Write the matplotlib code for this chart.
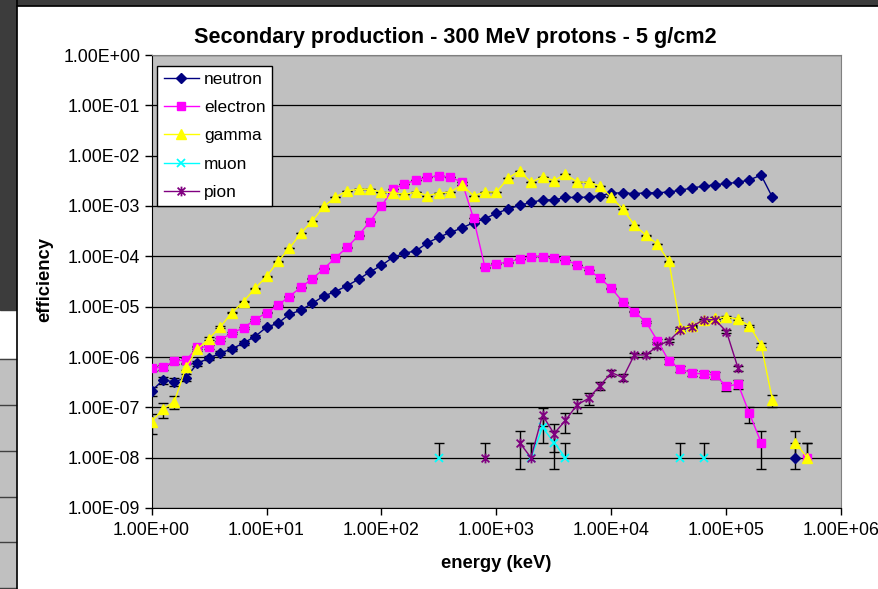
import numpy as np
import matplotlib
matplotlib.use("Agg")
import matplotlib.pyplot as plt
from matplotlib.patches import Rectangle
from matplotlib.lines import Line2D
from matplotlib.path import Path
from matplotlib.ticker import FuncFormatter, LogLocator, NullLocator

plt.rcParams['font.family'] = ['Liberation Sans', 'DejaVu Sans']

nan = np.nan

# energy bins (keV), 10 per decade
energy = [1.00, 1.26, 1.58, 2.00, 2.51, 3.16, 3.98, 5.01, 6.31, 7.94,
          10.0, 12.6, 15.8, 20.0, 25.1, 31.6, 39.8, 50.1, 63.1, 79.4,
          100, 126, 158, 200, 251, 316, 398, 501, 631, 794,
          1000, 1259, 1585, 1995, 2512, 3162, 3981, 5012, 6310, 7943,
          1.0e4, 1.26e4, 1.58e4, 2.0e4, 2.51e4, 3.16e4, 3.98e4, 5.01e4, 6.31e4, 7.94e4,
          1.0e5, 1.26e5, 1.58e5, 2.0e5, 2.51e5, 3.16e5, 3.98e5, 5.01e5]

neutron = [2.1e-7, 3.5e-7, 3.2e-7, 3.9e-7, 7.5e-7, 9.5e-7, 1.2e-6, 1.45e-6, 1.9e-6, 2.55e-6,
           3.9e-6, 4.7e-6, 7.0e-6, 8.6e-6, 1.17e-5, 1.63e-5, 2.0e-5, 2.6e-5, 3.5e-5, 4.9e-5,
           6.6e-5, 9.6e-5, 1.15e-4, 1.29e-4, 1.85e-4, 2.4e-4, 3.0e-4, 3.65e-4, 4.7e-4, 5.6e-4,
           7.2e-4, 8.7e-4, 1.03e-3, 1.18e-3, 1.32e-3, 1.32e-3, 1.48e-3, 1.48e-3, 1.5e-3, 1.6e-3,
           1.8e-3, 1.83e-3, 1.76e-3, 1.83e-3, 1.83e-3, 1.9e-3, 2.05e-3, 2.3e-3, 2.46e-3, 2.65e-3,
           2.8e-3, 2.95e-3, 3.3e-3, 4.1e-3, 1.48e-3, nan, 1.0e-8, nan]

electron = [6.0e-7, 6.3e-7, 8.3e-7, 8.7e-7, 1.55e-6, 1.6e-6, 2.2e-6, 3.0e-6, 3.8e-6, 5.5e-6,
            7.6e-6, 1.07e-5, 1.59e-5, 2.45e-5, 3.6e-5, 5.7e-5, 9.4e-5, 1.5e-4, 2.6e-4, 4.9e-4,
            1.0e-3, 2.2e-3, 2.7e-3, 3.3e-3, 3.7e-3, 4.0e-3, 3.7e-3, 3.0e-3, 5.7e-4, 6.0e-5,
            7.2e-5, 7.6e-5, 8.9e-5, 9.9e-5, 9.9e-5, 9.4e-5, 8.5e-5, 6.8e-5, 5.4e-5, 3.7e-5,
            2.3e-5, 1.23e-5, 8.0e-6, 4.9e-6, 2.1e-6, 8.3e-7, 5.8e-7, 4.8e-7, 4.6e-7, 4.4e-7,
            2.6e-7, 2.9e-7, 7.6e-8, 2.0e-8, nan, nan, nan, 1.0e-8]

gamma = [5.2e-8, 9.2e-8, 1.3e-7, 6.4e-7, 1.43e-6, 2.3e-6, 4.0e-6, 7.6e-6, 1.26e-5, 2.3e-5,
         4.0e-5, 7.9e-5, 1.45e-4, 2.9e-4, 5.1e-4, 9.8e-4, 1.5e-3, 2.0e-3, 2.15e-3, 2.15e-3,
         1.9e-3, 1.85e-3, 1.7e-3, 1.9e-3, 1.6e-3, 1.8e-3, 1.9e-3, 2.6e-3, 1.6e-3, 1.9e-3,
         1.9e-3, 3.55e-3, 5.0e-3, 2.95e-3, 3.8e-3, 3.2e-3, 4.3e-3, 3.0e-3, 2.95e-3, 2.5e-3,
         1.48e-3, 8.6e-4, 4.2e-4, 2.6e-4, 1.74e-4, 7.9e-5, 3.8e-6, 4.2e-6, 5.4e-6, 5.9e-6,
         6.3e-6, 5.6e-6, 4.2e-6, 1.74e-6, 1.4e-7, nan, 2.0e-8, 1.0e-8]

muon = [nan] * 25 + [1.0e-8] + [nan] * 7 + [1.0e-8, 4.0e-8, 2.0e-8, 1.0e-8] + \
       [nan] * 9 + [1.0e-8, nan, 1.0e-8] + [nan] * 9

pion = [nan] * 29 + [1.0e-8, nan, nan] + \
       [2.0e-8, 1.0e-8, 7.0e-8, 3.0e-8, 5.5e-8, 1.12e-7, 1.5e-7, 2.7e-7, 4.9e-7, 3.9e-7,
        1.1e-6, 1.1e-6, 1.66e-6, 2.1e-6, 3.45e-6, 4.0e-6, 5.5e-6, 5.5e-6, 3.2e-6, 6.0e-7] + [nan] * 6

ONE_COUNT = 1e-8  # efficiency of a single count

# excel style star: an x with a vertical bar through it
star = Path([(-1, -1), (1, 1), (-1, 1), (1, -1), (0, -1.25), (0, 1.25)],
            [Path.MOVETO, Path.LINETO, Path.MOVETO, Path.LINETO, Path.MOVETO, Path.LINETO])

series = [("neutron", neutron, "#000080", "D", 5.5),
          ("electron", electron, "#FF00FF", "s", 5.5),
          ("gamma", gamma, "#FFFF00", "^", 7),
          ("muon", muon, "#00FFFF", "x", 6),
          ("pion", pion, "#800080", star, 7)]

W, H = 879, 589
fig = plt.figure(figsize=(W / 100, H / 100), dpi=100)

# slide background around the chart
def fx(px):
    return px / W

def fy(py):
    return 1 - py / H

fig.add_artist(Rectangle((0, fy(5)), 1, 5 / H, transform=fig.transFigure, color="#3c3c3c", zorder=0))
fig.add_artist(Rectangle((0, fy(310)), fx(16), 310 / H, transform=fig.transFigure, color="#3c3c3c", zorder=0))
fig.add_artist(Rectangle((0, 0), fx(16), fy(359), transform=fig.transFigure, color="#c0c0c0", zorder=0))
for py in [359, 405, 451, 497, 542, 588]:
    fig.add_artist(Line2D([0, fx(16)], [fy(py), fy(py)], transform=fig.transFigure, color="#404040", lw=1))
fig.add_artist(Line2D([fx(16.5), fx(16.5)], [0, 1], transform=fig.transFigure, color="black", lw=1.2))
fig.add_artist(Line2D([fx(16.5), 1], [fy(5.5), fy(5.5)], transform=fig.transFigure, color="black", lw=1.2))

ax = fig.add_axes([fx(151.5), fy(508), (841.5 - 151.5) / W, (508 - 55) / H])
ax.set_facecolor("#c0c0c0")
ax.set_xscale("log")
ax.set_yscale("log")
ax.set_xlim(1, 1e6)
ax.set_ylim(1e-9, 1)

ax.yaxis.set_major_locator(LogLocator(base=10, numticks=12))
ax.xaxis.set_major_locator(LogLocator(base=10, numticks=12))
ax.xaxis.set_minor_locator(NullLocator())
ax.yaxis.set_minor_locator(NullLocator())
fmt = FuncFormatter(lambda v, p: f"{v:.2E}")
ax.xaxis.set_major_formatter(fmt)
ax.yaxis.set_major_formatter(fmt)
ax.tick_params(axis="both", direction="out", length=5, width=1, labelsize=12.8, color="black")
ax.tick_params(axis="y", pad=3)
ax.tick_params(axis="x", pad=5)
ax.grid(axis="y", color="black", lw=0.9)
ax.set_axisbelow(True)
for side in ["top", "right"]:
    ax.spines[side].set_color("#808080")
for side in ["left", "bottom"]:
    ax.spines[side].set_color("black")

e = np.array(energy)
handles = []
for i, (name, vals, col, mk, ms) in enumerate(series):
    v = np.array(vals)
    ok = np.isfinite(v)
    n = v[ok] / ONE_COUNT
    err = np.sqrt(n) * ONE_COUNT
    hi = v[ok] + err
    lo = np.where(n > 1.5, v[ok] - err, v[ok])
    ax.vlines(e[ok], lo, hi, color="black", lw=1, zorder=2 + i * 0.1)
    ax.plot(e[ok], hi, ls="none", marker="_", ms=7, mew=1, color="black", zorder=2 + i * 0.1)
    low = n > 1.5
    ax.plot(e[ok][low], lo[low], ls="none", marker="_", ms=7, mew=1, color="black", zorder=2 + i * 0.1)
    mew = 1 if mk in ("D", "s", "^") else 1.3
    h, = ax.plot(e, v, color=col, lw=1, marker=mk, ms=ms, mfc=col, mec=col, mew=mew,
                 zorder=3 + i * 0.1, label=name)
    handles.append(h)

leg = ax.legend(handles=handles, loc="upper left", bbox_to_anchor=(fx(157.5), fy(65.5)),
                bbox_transform=fig.transFigure, borderaxespad=0, fontsize=12.4,
                frameon=True, fancybox=False, edgecolor="black", framealpha=1,
                handlelength=2.05, handletextpad=0.3, labelspacing=0.77, borderpad=0.35)
leg.get_frame().set_linewidth(1)

fig.text(fx(455), fy(37), "Secondary production - 300 MeV protons - 5 g/cm2",
         ha="center", va="center", fontsize=15.6, fontweight="bold")
fig.text(fx(496), fy(563), "energy (keV)", ha="center", va="center", fontsize=13.2, fontweight="bold")
fig.text(fx(45), fy(280), "efficiency", ha="center", va="center", rotation=90,
         fontsize=13.2, fontweight="bold")

fig.savefig("out.png", dpi=100)
